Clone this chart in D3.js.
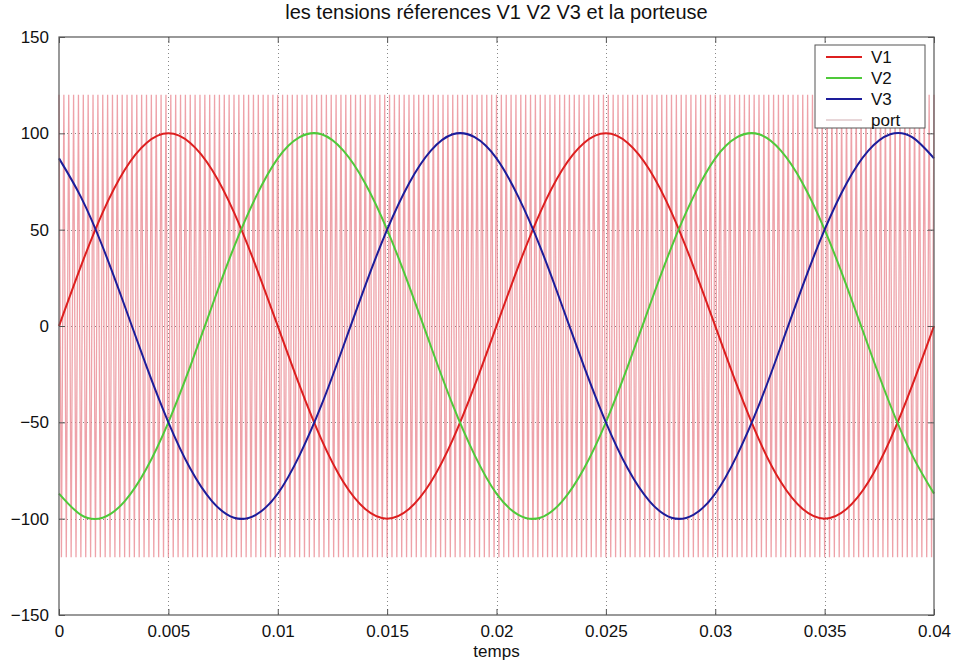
<!DOCTYPE html>
<html>
<head>
<meta charset="utf-8">
<script src="https://cdn.jsdelivr.net/npm/d3@7"></script>
<style>
  body { margin: 0; background: #fff; }
  text { font-family: "Liberation Sans", Arial, sans-serif; fill: #111; }
</style>
</head>
<body>
<script>
// time samples (s) and reference voltages
var times = d3.range(0, 41).map(function(k) { return k * 0.001; });
var v1 = [0, 31, 59, 81, 95, 100, 95, 81, 59, 31, 0, -31, -59, -81, -95, -100, -95, -81, -59, -31,
          0, 31, 59, 81, 95, 100, 95, 81, 59, 31, 0, -31, -59, -81, -95, -100, -95, -81, -59, -31, 0];
var v2 = [-87, -98, -99.5, -91, -74, -50, -21, 10.5, 41, 67, 87, 98, 99.5, 91, 74, 50, 21, -10.5, -41, -67,
          -87, -98, -99.5, -91, -74, -50, -21, 10.5, 41, 67, 87, 98, 99.5, 91, 74, 50, 21, -10.5, -41, -67, -87];
var v3 = [87, 67, 41, 10.5, -21, -50, -74, -91, -99.5, -98, -87, -67, -41, -10.5, 21, 50, 74, 91, 99.5, 98,
          87, 67, 41, 10.5, -21, -50, -74, -91, -99.5, -98, -87, -67, -41, -10.5, 21, 50, 74, 91, 99.5, 98, 87];
// carrier (porteuse): triangle between these levels, this many periods on the window
var carrierLevels = [-120, 120];
var carrierCycles = 180;

var xTicks = [0, 0.005, 0.01, 0.015, 0.02, 0.025, 0.03, 0.035, 0.04];
var yTicks = [-150, -100, -50, 0, 50, 100, 150];
var seriesNames = ['V1', 'V2', 'V3', 'port'];

var width = 957, height = 666;
var margin = {left: 59, right: 23, top: 37, bottom: 51};

var svg = d3.select('body').append('svg')
  .attr('width', width)
  .attr('height', height);

var x = d3.scaleLinear().domain([0, 0.04]).range([margin.left, width - margin.right]);
var y = d3.scaleLinear().domain([-150, 150]).range([height - margin.bottom, margin.top]);

var colors = {V1: '#dd1f1f', V2: '#4fc93a', V3: '#1d1d9a', port: '#e8838c'};

// grid
var grid = svg.append('g').attr('stroke', '#888').attr('stroke-dasharray', '1,3').attr('stroke-width', 1);
grid.selectAll('.gx').data(xTicks.slice(1, -1)).enter().append('line')
  .attr('x1', function(d) { return Math.round(x(d)) + 0.5; })
  .attr('x2', function(d) { return Math.round(x(d)) + 0.5; })
  .attr('y1', y(150)).attr('y2', y(-150));
grid.selectAll('.gy').data(yTicks.slice(1, -1)).enter().append('line')
  .attr('y1', function(d) { return Math.round(y(d)) + 0.5; })
  .attr('y2', function(d) { return Math.round(y(d)) + 0.5; })
  .attr('x1', x(0)).attr('x2', x(0.04));

// carrier triangle wave
var carrier = [];
for (var i = 0; i <= carrierCycles * 2; i++) {
  carrier.push([i * 0.04 / (carrierCycles * 2), carrierLevels[(i + 1) % 2]]);
}
svg.append('path')
  .datum(carrier)
  .attr('fill', 'none')
  .attr('stroke', colors.port)
  .attr('stroke-width', 1.3)
  .attr('stroke-opacity', 0.75)
  .attr('d', d3.line().x(function(d) { return x(d[0]); }).y(function(d) { return y(d[1]); }));

// references
var line = d3.line()
  .x(function(d) { return x(d[0]); })
  .y(function(d) { return y(d[1]); })
  .curve(d3.curveNatural);

[['V1', v1], ['V2', v2], ['V3', v3]].forEach(function(s) {
  svg.append('path')
    .datum(times.map(function(t, i) { return [t, s[1][i]]; }))
    .attr('fill', 'none')
    .attr('stroke', colors[s[0]])
    .attr('stroke-width', 2)
    .attr('d', line);
});

// frame + ticks (matlab style: inward on all four sides)
svg.append('rect')
  .attr('x', x(0)).attr('y', y(150))
  .attr('width', x(0.04) - x(0)).attr('height', y(-150) - y(150))
  .attr('fill', 'none').attr('stroke', '#555').attr('stroke-width', 1.2);

var xAxis = d3.axisBottom(x).tickValues(xTicks).tickSize(-6).tickPadding(10)
  .tickFormat(function(d) { return d === 0 ? '0' : String(+d.toFixed(3)); });
var gx = svg.append('g').attr('transform', 'translate(0,' + y(-150) + ')').call(xAxis);
var gxTop = svg.append('g').attr('transform', 'translate(0,' + y(150) + ')')
  .call(d3.axisTop(x).tickValues(xTicks).tickSize(-6).tickFormat(''));
var yAxis = d3.axisLeft(y).tickValues(yTicks).tickSize(-6).tickPadding(10);
var gy = svg.append('g').attr('transform', 'translate(' + x(0) + ',0)').call(yAxis);
var gyRight = svg.append('g').attr('transform', 'translate(' + x(0.04) + ',0)')
  .call(d3.axisRight(y).tickValues(yTicks).tickSize(-6).tickFormat(''));

[gx, gxTop, gy, gyRight].forEach(function(g) {
  g.select('.domain').remove();
  g.selectAll('line').attr('stroke', '#555');
});
gx.selectAll('text').attr('font-size', 17).attr('font-family', '"Liberation Sans", Arial, sans-serif').attr('fill', '#111');
gy.selectAll('text').attr('font-size', 17).attr('font-family', '"Liberation Sans", Arial, sans-serif').attr('fill', '#111');

// title and label
svg.append('text')
  .attr('x', (x(0) + x(0.04)) / 2).attr('y', 19)
  .attr('text-anchor', 'middle').attr('font-size', 20)
  .text('les tensions réferences V1 V2 V3 et la porteuse');
svg.append('text')
  .attr('x', (x(0) + x(0.04)) / 2).attr('y', 657)
  .attr('text-anchor', 'middle').attr('font-size', 17)
  .text('temps');

// legend
var legend = svg.append('g').attr('transform', 'translate(815,45)');
legend.append('rect')
  .attr('width', 110).attr('height', 83)
  .attr('fill', '#fff').attr('stroke', '#555').attr('stroke-width', 1);
var items = legend.selectAll('.item').data(seriesNames).enter().append('g')
  .attr('transform', function(d, i) { return 'translate(0,' + (12 + i * 21) + ')'; });
items.append('line')
  .attr('x1', 11).attr('x2', 47)
  .attr('stroke', function(d) { return d === 'port' ? '#e8d6d8' : colors[d]; })
  .attr('stroke-width', 2);
items.append('text')
  .attr('x', 56).attr('y', 6)
  .attr('font-size', 17)
  .text(function(d) { return d; });
</script>
</body>
</html>
